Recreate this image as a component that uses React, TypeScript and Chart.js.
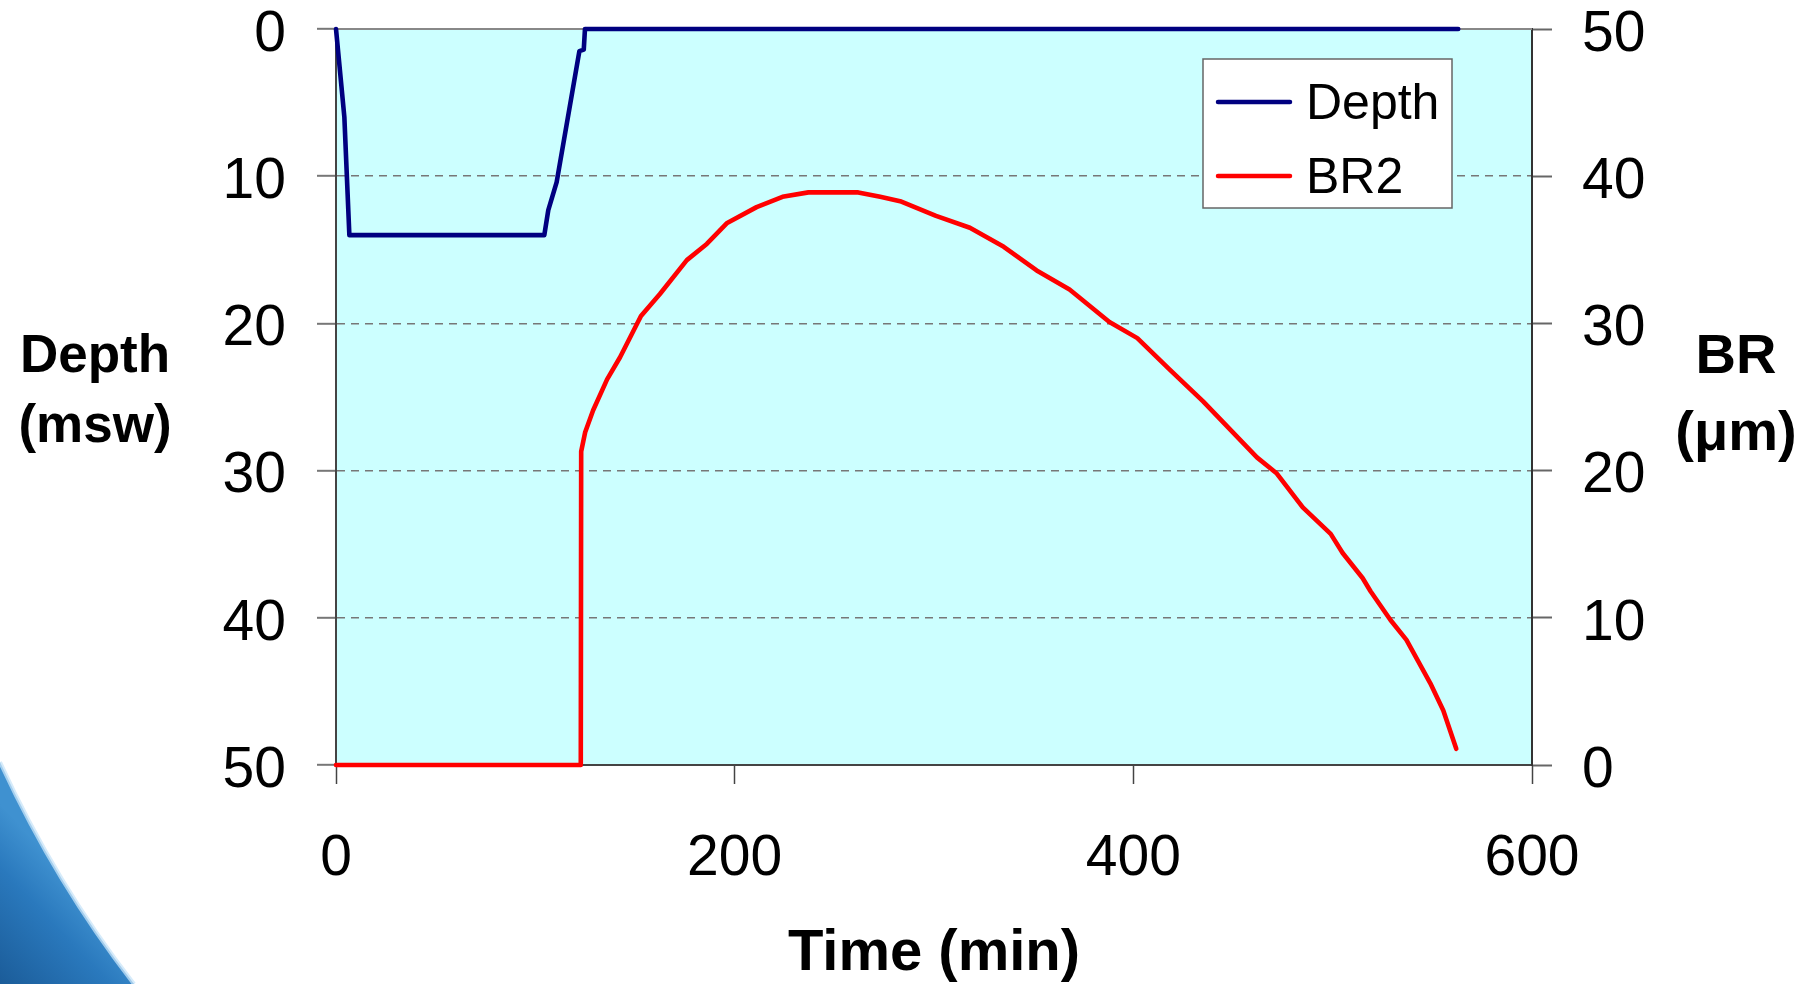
import React, { useEffect, useRef } from "react";
import { Chart, registerables } from "chart.js";

Chart.register(...registerables);

// ---- data ----
const depthTime = [0, 4.2, 6.7, 104.5, 106.5, 110.7, 122.1, 124.3, 124.9, 563];
const depthValues = [0, 6, 14, 14, 12.3, 10.4, 1.5, 1.4, 0, 0];

const brTime = [
  0, 122.8, 123, 125, 129, 136, 142.5, 153, 162.5, 176, 186, 196, 211, 224, 237,
  262, 273, 283, 301, 318, 335, 351.5, 368, 388, 402, 418, 435, 448.5, 462, 472,
  485, 499, 505, 515, 519, 529, 537, 549, 555.5, 562,
];
const brValues = [
  0, 0, 21.3, 22.6, 24.1, 26.2, 27.7, 30.5, 32.0, 34.3, 35.4, 36.8, 37.9, 38.6, 38.9,
  38.9, 38.6, 38.3, 37.3, 36.5, 35.2, 33.6, 32.3, 30.1, 29.0, 26.9, 24.7, 22.8, 20.9, 19.8,
  17.5, 15.7, 14.4, 12.7, 11.8, 9.85, 8.5, 5.55, 3.7, 1.1,
];

const xTicks = [0, 200, 400, 600];
const depthTicks = [0, 10, 20, 30, 40, 50];
const brTicks = [0, 10, 20, 30, 40, 50];
const seriesLabels = ["Depth", "BR2"];
const seriesColors = ["#000080", "#FF0000"];
const xTitle = "Time (min)";
const leftTitle = ["Depth", "(msw)"];
const rightTitle = ["BR", "(\u03BCm)"];

const FONT = '"Liberation Sans", Arial, Helvetica, sans-serif';

const decorPlugin = {
  id: "decor",
  beforeDraw(chart: any) {
    const { ctx, chartArea: a } = chart;
    ctx.save();
    ctx.fillStyle = "#ffffff";
    ctx.fillRect(0, 0, chart.width, chart.height);
    // slide decoration (bottom-left swoosh)
    ctx.beginPath();
    ctx.moveTo(0, 762);
    ctx.quadraticCurveTo(55, 882, 134, 984);
    ctx.lineTo(0, 984);
    ctx.closePath();
    const g = ctx.createLinearGradient(90, 900, 0, 984);
    g.addColorStop(0, "#3f91d0");
    g.addColorStop(0.35, "#2a79bd");
    g.addColorStop(1, "#1b5c99");
    ctx.fillStyle = g;
    ctx.fill();
    ctx.beginPath();
    ctx.moveTo(0, 762);
    ctx.quadraticCurveTo(55, 882, 134, 984);
    ctx.strokeStyle = "rgba(200,228,248,0.75)";
    ctx.lineWidth = 4;
    ctx.stroke();
    // plot background
    ctx.fillStyle = "#CCFFFF";
    ctx.fillRect(a.left, a.top, a.right - a.left, a.bottom - a.top);
    ctx.restore();
  },
  beforeDatasetsDraw(chart: any) {
    const { ctx, chartArea: a } = chart;
    ctx.save();
    ctx.strokeStyle = "#888888";
    ctx.lineWidth = 2;
    ctx.beginPath();
    ctx.moveTo(a.left, a.top);
    ctx.lineTo(a.right, a.top);
    ctx.stroke();
    ctx.restore();
  },
  afterDraw(chart: any) {
    const { ctx } = chart;
    ctx.save();
    // legend
    const bx = 1203, by = 59, bw = 249, bh = 149;
    ctx.fillStyle = "#ffffff";
    ctx.fillRect(bx, by, bw, bh);
    ctx.strokeStyle = "#666666";
    ctx.lineWidth = 1.5;
    ctx.strokeRect(bx, by, bw, bh);
    const rows = [102, 176];
    chart.data.datasets.forEach((ds: any, i: number) => {
      ctx.strokeStyle = ds.borderColor;
      ctx.lineWidth = 4.5;
      ctx.lineCap = "round";
      ctx.beginPath();
      ctx.moveTo(1218, rows[i]);
      ctx.lineTo(1290, rows[i]);
      ctx.stroke();
      ctx.fillStyle = "#000";
      ctx.font = `50px ${FONT}`;
      ctx.textAlign = "left";
      ctx.textBaseline = "alphabetic";
      ctx.fillText(ds.label, 1306, rows[i] + 17);
    });
    // y-axis titles
    ctx.fillStyle = "#000";
    ctx.textAlign = "center";
    ctx.textBaseline = "alphabetic";
    ctx.font = `bold 53px ${FONT}`;
    ctx.fillText(leftTitle[0], 95, 372);
    ctx.fillText(leftTitle[1], 95, 442);
    ctx.font = `bold 56px ${FONT}`;
    ctx.fillText(rightTitle[0], 1736, 373);
    ctx.fillText(rightTitle[1], 1736, 450);
    ctx.restore();
  },
};

export default function App() {
  const ref = useRef<HTMLCanvasElement | null>(null);

  useEffect(() => {
    if (!ref.current) return;
    Chart.defaults.font.family = FONT;
    const chart = new Chart(ref.current, {
      type: "line",
      data: {
        datasets: [
          {
            label: seriesLabels[0],
            data: depthTime.map((t, i) => ({ x: t, y: depthValues[i] })),
            yAxisID: "yDepth",
            borderColor: seriesColors[0],
            backgroundColor: seriesColors[0],
            borderWidth: 4.6,
            pointRadius: 0,
            tension: 0,
            borderJoinStyle: "round",
            borderCapStyle: "round",
            clip: false,
          },
          {
            label: seriesLabels[1],
            data: brTime.map((t, i) => ({ x: t, y: brValues[i] })),
            yAxisID: "yBR",
            borderColor: seriesColors[1],
            backgroundColor: seriesColors[1],
            borderWidth: 4.6,
            pointRadius: 0,
            tension: 0,
            borderJoinStyle: "round",
            borderCapStyle: "round",
            clip: false,
          },
        ] as any,
      },
      options: {
        responsive: false,
        animation: false,
        devicePixelRatio: 1,
        layout: { padding: { top: 29, left: 0, right: 0, bottom: 0 } },
        plugins: { legend: { display: false }, tooltip: { enabled: false } },
        scales: {
          x: {
            type: "linear",
            position: "bottom",
            min: 0,
            max: 600,
            afterBuildTicks: (s: any) => {
              s.ticks = xTicks.map((v) => ({ value: v }));
            },
            afterFit: (s: any) => {
              s.height = 219;
              s.paddingLeft = 0;
              s.paddingRight = 0;
            },
            grid: {
              drawOnChartArea: false,
              drawTicks: true,
              tickLength: 19,
              tickColor: "#444444",
              tickWidth: 1.5,
            },
            border: { display: true, color: "#444444", width: 2 },
            ticks: {
              color: "#000",
              font: { size: 57 },
              padding: 41,
              maxRotation: 0,
              callback: (v: any) => String(v),
            },
            title: {
              display: true,
              text: xTitle,
              color: "#000",
              font: { size: 58, weight: "bold", lineHeight: 1 },
              padding: { top: 0, bottom: 1 },
            },
          },
          yDepth: {
            type: "linear",
            position: "left",
            reverse: true,
            min: 0,
            max: 50,
            afterBuildTicks: (s: any) => {
              s.ticks = depthTicks.map((v) => ({ value: v }));
            },
            afterFit: (s: any) => {
              s.width = 336;
              s.paddingTop = 0;
              s.paddingBottom = 0;
            },
            grid: {
              drawOnChartArea: true,
              color: "#777777",
              lineWidth: 1.6,
              drawTicks: true,
              tickLength: 19,
              tickColor: "#777777",
              tickWidth: 2,
              tickBorderDash: [],
            },
            border: { display: true, color: "#444444", width: 2, dash: [8, 6] },
            ticks: {
              color: "#000",
              font: { size: 57 },
              padding: 31,
              labelOffset: 6,
              callback: (v: any) => String(v),
            },
          },
          yBR: {
            type: "linear",
            position: "right",
            min: 0,
            max: 50,
            afterBuildTicks: (s: any) => {
              s.ticks = brTicks.map((v) => ({ value: v }));
            },
            afterFit: (s: any) => {
              s.width = 288;
              s.paddingTop = 0;
              s.paddingBottom = 0;
            },
            grid: {
              drawOnChartArea: false,
              drawTicks: true,
              tickLength: 20,
              tickColor: "#666666",
              tickWidth: 2,
            },
            border: { display: true, color: "#333333", width: 2 },
            ticks: {
              color: "#000",
              font: { size: 57 },
              padding: 30,
              labelOffset: 6,
              callback: (v: any) => String(v),
            },
          },
        },
      } as any,
      plugins: [decorPlugin],
    });
    return () => chart.destroy();
  }, []);

  return (
    <div style={{ position: "fixed", left: 0, top: 0, width: 1820, height: 984, background: "#fff" }}>
      <canvas ref={ref} width={1820} height={984} style={{ display: "block", width: 1820, height: 984 }} />
    </div>
  );
}
